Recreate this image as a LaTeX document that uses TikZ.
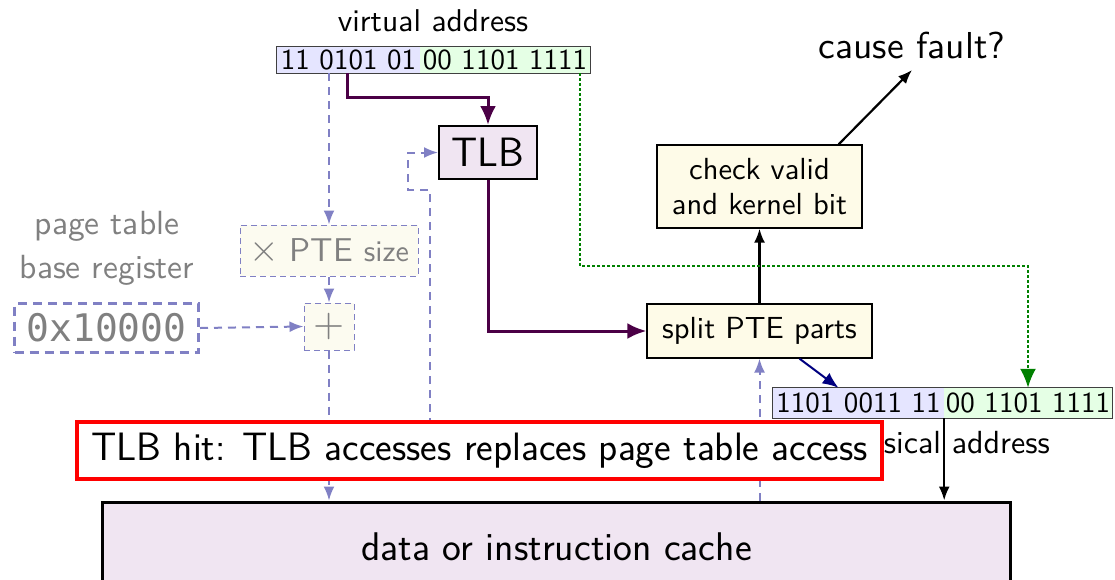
\documentclass[tikz,border=0pt]{standalone}
\usepackage{fontspec}
\setmonofont{DejaVu Sans Mono}
% text-size optical design of Latin Modern Sans, used for the smaller labels
\newfontfamily\lmsmall{lmsans10-regular}[Extension=.otf]
\usetikzlibrary{arrows.meta,fit,calc}

\definecolor{addrblue}{RGB}{229,229,255}
\definecolor{addrgreen}{RGB}{229,255,229}
\definecolor{lilac}{RGB}{240,229,242}
\definecolor{cream}{RGB}{254,251,232}
\definecolor{palecream}{RGB}{252,251,240}
\definecolor{faded}{RGB}{128,128,196}
\definecolor{plum}{RGB}{75,0,70}
\definecolor{navyline}{RGB}{0,0,128}
\definecolor{okgreen}{RGB}{0,128,0}
\definecolor{fadedtext}{RGB}{128,128,128}

\newcommand\fsz[2]{\fontsize{#1}{#2}\selectfont}

\begin{document}
\begin{tikzpicture}[x=1pt,y=-1pt,
  addr/.style={inner sep=0pt, minimum height=26pt, font=\lmsmall\fsz{29}{32}},
  paddr/.style={inner sep=0pt, minimum height=30pt, font=\lmsmall\fsz{29}{32}},
  ybox/.style={draw, line width=1.3pt, fill=cream, inner sep=0pt, align=center,
    font=\lmsmall\fsz{30.5}{35}},
  fbox/.style={draw=faded, dashed, line width=1pt, dash pattern=on 6pt off 4pt,
    fill=palecream, inner sep=0pt, text=fadedtext, font=\lmsmall\fsz{33}{36}},
  tip/.style={-{Latex[length=14pt,width=11pt]}},
  bigtip/.style={-{Latex[length=19pt,width=16pt]}},
  plumline/.style={bigtip, draw=plum, line width=3pt},
  blackline/.style={tip, line width=2.2pt},
  fadedline/.style={tip, draw=faded, line width=2pt, dash pattern=on 8pt off 6pt},
  greenline/.style={bigtip, draw=okgreen, line width=2.4pt, dash pattern=on 2.5pt off 2.5pt},
  navy/.style={-{Latex[length=16pt,width=13pt]}, draw=navyline, line width=2pt}]
\useasboundingbox (0,0) rectangle (1115,579);

% virtual address
\node[font=\lmsmall\fsz{31.5}{36}] (vlbl) at (433,21) {virtual address};
\node[addr, fill=addrblue, minimum width=143pt] (va1) at (348.5,60) {11 0101 01};
\node[addr, fill=addrgreen, minimum width=170pt] (va2) at (505,60) {00 1101 1111};
\node[fit=(va1)(va2), inner sep=0pt, draw=darkgray, line width=1.2pt] (va) {};
\coordinate (vtlb) at (347,73);
\coordinate (vpt) at (329,73);
\coordinate (voff) at (580,73);

% page table walk (faded)
\node[text=fadedtext, align=center, font=\lmsmall\fsz{33.5}{44}] (ptlbl) at (107,248) {page table\\base register};
\node[draw=faded, line width=3pt, dash pattern=on 9pt off 6pt, minimum width=184pt,
  minimum height=49pt, inner sep=0pt, text=fadedtext, font=\ttfamily\fsz{38}{44}] (reg) at (106.5,328) {0x10000};
\node[fbox, minimum width=178pt, minimum height=51pt] (ptesz) at (329,250.5) {{\fsz{38}{38}×} PTE {\fsz{30}{32}size}};
\node[fbox, minimum width=50pt, minimum height=47pt, font=\lmsmall\fsz{40}{44}] (plus) at (329,326.5) {+};

% TLB and PTE handling
\node[draw, line width=2pt, fill=lilac, minimum width=98pt, minimum height=53pt, inner sep=0pt,
  font=\sffamily\fsz{41}{44}] (tlb) at (488,152.5) {TLB};
\node[ybox, minimum width=225pt, minimum height=54pt] (split) at (759.5,331) {split PTE parts};
\node[ybox, minimum width=205pt, minimum height=83pt] (check) at (759.5,186.5) {check valid\\and kernel bit};
\node[font=\lmsmall\fsz{37.5}{40}, anchor=south, inner sep=11pt] (fault) at (912,70) {cause fault?};

% physical address
\node[paddr, fill=addrblue, minimum width=171pt] (pa1) at (858.5,403) {1101 0011 11};
\node[paddr, fill=addrgreen, minimum width=168pt] (pa2) at (1028,403) {00 1101 1111};
\node[fit=(pa1)(pa2), inner sep=0pt, draw=darkgray, line width=1.2pt] (pa) {};
\node[font=\lmsmall\fsz{32}{36}] (plbl) at (943,446) {physical address};

% cache
\node[draw, line width=3pt, fill=lilac, minimum width=908pt, minimum height=90pt, inner sep=0pt,
  font=\sffamily\fsz{40}{44}] (cache) at (556.5,547) {data or instruction cache};

% faded connectors
\draw[fadedline] (vpt) -- (ptesz.north);
\draw[fadedline] (ptesz.south) -- (plus.north);
\draw[fadedline] (reg.east) -- (plus.west);
\draw[fadedline] (plus.south) -- (plus.south |- cache.north);
\coordinate (fb) at (430,440);
\draw[fadedline] (fb) -- ++(0,-250) -- ++(-22,0) |- (tlb.west);
\draw[fadedline] (split.south |- cache.north) -- (split.south);

% main connectors
\draw[plumline] (vtlb) -- ++(0,24) -| (tlb.north);
\draw[plumline] (tlb.south) |- (split.west);
\draw[blackline] (split.north) -- (check.south);
\draw[blackline] ([xshift=-24pt]check.north east) -- (fault.south);
\draw[greenline] (voff) |- ([yshift=122pt]pa2.north) -- (pa2.north);
\draw[navy] ([xshift=40pt]split.south) -- ([xshift=-20pt]pa1.north);
\draw[blackline] (pa1.south east) -- (pa1.south east |- cache.north);

% highlight
\node[draw=red, line width=4pt, fill=white, minimum width=805pt, minimum height=57pt, inner sep=0pt,
  font=\sffamily\fsz{39.6}{44}] (hit) at (479.5,450.5) {TLB hit: TLB accesses replaces page table access};
\end{tikzpicture}
\end{document}
